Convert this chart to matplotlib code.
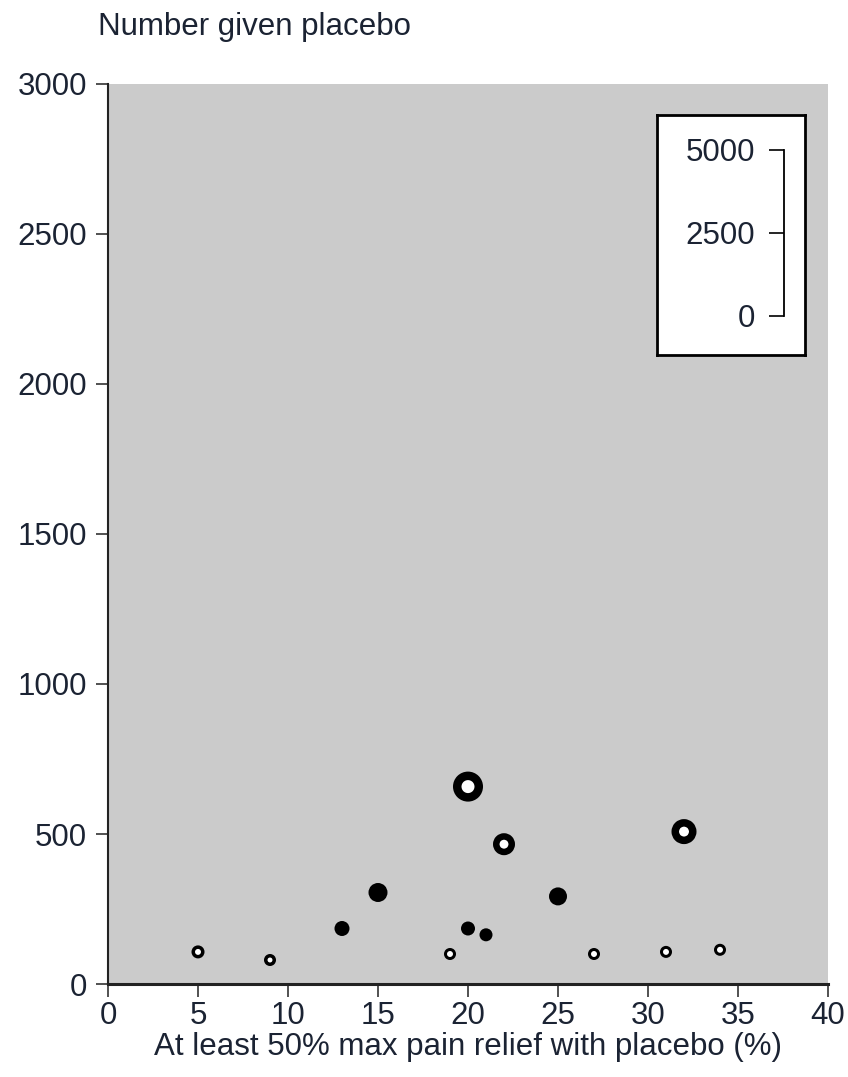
import matplotlib
matplotlib.use("Agg")
import matplotlib.pyplot as plt
import numpy as np

## ## data
# open rings
open_x = [5, 9, 19, 27, 31, 34, 20, 22, 32]
open_y = [107, 80, 100, 100, 107, 114, 658, 466, 508]
# filled dots
filled_x = [13, 15, 20, 21, 25]
filled_y = [185, 305, 185, 164, 292]

x_ticks = [0, 5, 10, 15, 20, 25, 30, 35, 40]
y_ticks = [0, 500, 1000, 1500, 2000, 2500, 3000]
scale_ticks = [0, 2500, 5000]

## ## marker look (outer / inner diameter in px)
open_outer = [13, 12, 12, 12, 12, 12, 30, 22, 25]
open_inner = [6, 5, 6, 6, 6, 6, 13, 9, 10]
filled_outer = [15, 19, 14, 13, 18]

DPI = 100
PX = 72.0 / DPI  # points per pixel
txt = "#1b2333"
fs = 22.5

plt.rcParams['font.family'] = ['Liberation Sans', 'DejaVu Sans']

fig = plt.figure(figsize=(8.48, 10.77), dpi=DPI)
ax = fig.add_axes([108 / 848, 1 - 984 / 1077, 720 / 848, 900 / 1077])
ax.set_facecolor("#cbcbcb")

## open rings: path sits in the middle of the ring, edge width = ring thickness
o_out = np.array(open_outer)
o_in = np.array(open_inner)
ax.scatter(open_x, open_y, s=((o_out + o_in) / 2 * PX) ** 2,
           facecolors="white", edgecolors="black",
           linewidths=(o_out - o_in) / 2 * PX, zorder=3, clip_on=False)
ax.scatter(filled_x, filled_y, s=(np.array(filled_outer) * PX) ** 2,
           facecolors="black", edgecolors="none", zorder=3, clip_on=False)

ax.set_xlim(0, 40)
ax.set_ylim(0, 3000)
ax.set_xticks(x_ticks)
ax.set_yticks(y_ticks)
for s in ["top", "right"]:
    ax.spines[s].set_visible(False)
ax.spines["left"].set_linewidth(1.5)
ax.spines["bottom"].set_linewidth(2.2)
ax.spines["left"].set_color("#222222")
ax.spines["bottom"].set_color("#222222")
ax.tick_params(axis="both", direction="out", length=9, width=1.2,
               color="#333333", labelsize=fs, labelcolor=txt)
ax.tick_params(axis="y", pad=6)
ax.tick_params(axis="x", pad=3)
ax.set_xlabel("At least 50% max pain relief with placebo (%)",
              fontsize=fs, color=txt, labelpad=1)

fig.text(98 / 848, 1 - 27 / 1077, "Number given placebo",
         fontsize=fs, color=txt, ha="left", va="center")

## ## inset scale box
box = fig.add_axes([657 / 848, 1 - 355 / 1077, 148 / 848, 240 / 1077])
box.set_facecolor("white")
box.set_xticks([])
box.set_yticks([])
for s in box.spines.values():
    s.set_linewidth(2)
    s.set_color("black")

sc = fig.add_axes([784 / 848, 1 - 316 / 1077, 0.001, 166 / 1077])
sc.set_ylim(0, 5000)
sc.set_yticks(scale_ticks)
sc.set_xticks([])
sc.patch.set_visible(False)
for s in ["top", "right", "bottom"]:
    sc.spines[s].set_visible(False)
sc.spines["left"].set_linewidth(1.3)
sc.tick_params(axis="y", direction="out", length=11, width=1.2,
               labelsize=fs, labelcolor=txt, pad=10)

plt.savefig("out.png", dpi=DPI)
